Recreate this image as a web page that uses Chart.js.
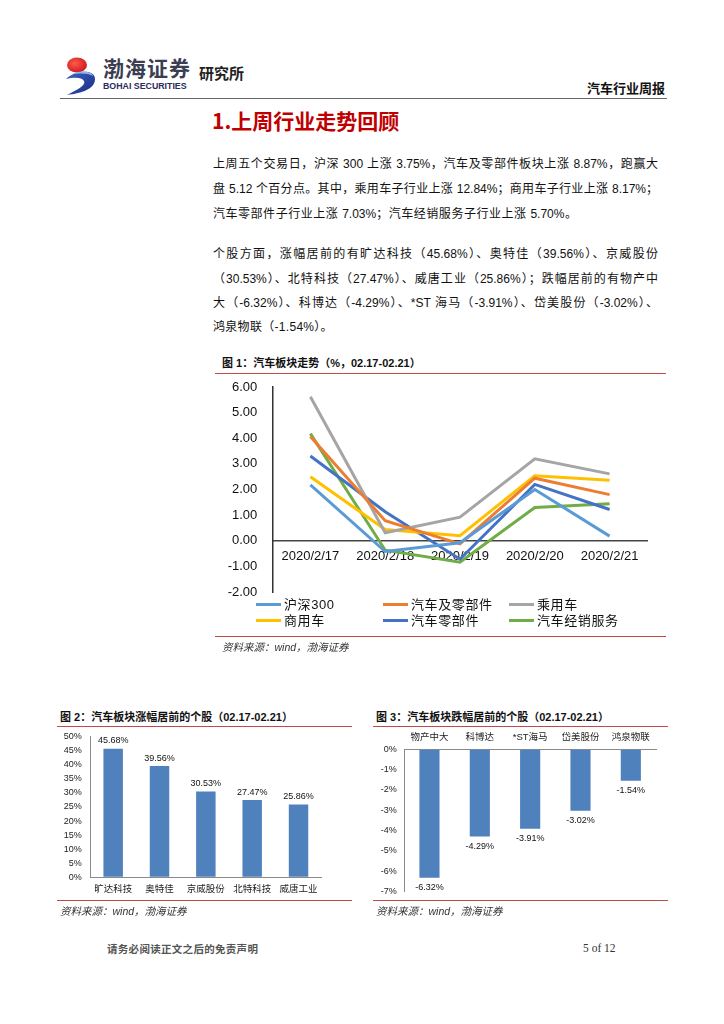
<!DOCTYPE html>
<html>
<head>
<meta charset="utf-8">
<script src="https://cdn.jsdelivr.net/npm/chart.js@4"></script>
<style>
  html,body{margin:0;padding:0;background:#fff;}
  body{width:724px;height:1024px;position:relative;overflow:hidden;
       font-family:"Liberation Sans","Noto Sans CJK SC",sans-serif;color:#111;}
  .abs{position:absolute;}
  .line{position:absolute;left:213px;font-size:12px;line-height:16px;height:16px;
        text-align:justify;text-align-last:justify;color:#111;}
  .rule{position:absolute;height:0;border-top:1.5px solid #BE4B48;}
  .figt{position:absolute;font-size:11px;font-weight:bold;line-height:14px;color:#111;white-space:nowrap;}
  .src{position:absolute;font-size:10.5px;font-style:italic;line-height:13px;color:#333;white-space:nowrap;}
  .leg{position:absolute;font-size:13px;line-height:16px;color:#111;white-space:nowrap;letter-spacing:0.6px;}
  .leg i{position:absolute;left:-28px;top:6px;width:25px;height:3px;}
  canvas{position:absolute;}
</style>
</head>
<body>
<!-- header -->
<svg class="abs" style="left:62px;top:52px" width="40" height="46" viewBox="0 0 40 46">
  <defs>
    <radialGradient id="rg" cx="0.4" cy="0.4" r="0.7">
      <stop offset="0" stop-color="#ff5a4a"/><stop offset="1" stop-color="#c8141c"/>
    </radialGradient>
    <linearGradient id="bg" x1="0" y1="0" x2="1" y2="1">
      <stop offset="0" stop-color="#3f63c8"/><stop offset="1" stop-color="#1b2a80"/>
    </linearGradient>
  </defs>
  <ellipse cx="15" cy="13" rx="10" ry="7.5" fill="url(#rg)"/>
  <path d="M4 27 C 14 18, 33 17, 33 27 C 33 37, 20 41, 5 43 C 17 37, 24 33, 22 29 C 20 25, 12 25, 4 27 Z" fill="url(#bg)"/>
  <path d="M10 22 C 18 18, 30 19, 31 24 C 27 21, 18 21, 10 22 Z" fill="#8fb4ec"/>
</svg>
<div class="abs" style="left:103px;top:54px;font-size:21px;line-height:26px;font-weight:bold;color:#3b3d52;letter-spacing:1px;font-family:'Noto Sans CJK SC';">渤海证券</div>
<div class="abs" style="left:103px;top:81px;font-size:8.8px;line-height:10px;font-weight:bold;color:#2a2c5a;">BOHAI SECURITIES</div>
<div class="abs" style="left:199px;top:63px;font-size:15px;line-height:20px;font-weight:bold;color:#222;font-family:'Noto Sans CJK SC';">研究所</div>
<div class="abs" style="right:59px;top:79px;font-size:13px;line-height:17px;font-weight:bold;color:#111;font-family:'Noto Sans CJK SC';">汽车行业周报</div>
<div class="abs" style="left:60px;top:98px;width:607px;height:0;border-top:1.6px solid #666;"></div>

<!-- section title -->
<div class="abs" style="left:212px;top:106px;font-size:21px;line-height:28px;font-weight:bold;color:#C00000;font-family:'Noto Sans CJK SC';">1.上周行业走势回顾</div>

<!-- paragraph 1 -->
<div class="line" style="top:156px;width:445px;">上周五个交易日，沪深 300 上涨 3.75%，汽车及零部件板块上涨 8.87%，跑赢大</div>
<div class="line" style="top:181px;width:445px;">盘 5.12 个百分点。其中，乘用车子行业上涨 12.84%；商用车子行业上涨 8.17%；</div>
<div class="line" style="top:206px;width:364px;">汽车零部件子行业上涨 7.03%；汽车经销服务子行业上涨 5.70%。</div>
<!-- paragraph 2 -->
<div class="line" style="top:246px;width:445px;">个股方面，涨幅居前的有旷达科技（45.68%）、奥特佳（39.56%）、京威股份</div>
<div class="line" style="top:271px;width:445px;">（30.53%）、北特科技（27.47%）、威唐工业（25.86%）；跌幅居前的有物产中</div>
<div class="line" style="top:295px;width:445px;">大（-6.32%）、科博达（-4.29%）、*ST 海马（-3.91%）、岱美股份（-3.02%）、</div>
<div class="line" style="top:319px;text-align:left;text-align-last:left;white-space:nowrap;letter-spacing:0.3px;">鸿泉物联（-1.54%）。</div>

<!-- figure 1 -->
<div class="figt" style="left:222px;top:356px;">图 1：汽车板块走势（%，02.17-02.21）</div>
<div class="rule" style="left:215px;top:373px;width:451px;"></div>
<canvas id="c1" width="450" height="224" style="left:215px;top:376px;"></canvas>
<div id="legend1"></div>
<div class="rule" style="left:215px;top:636px;width:451px;"></div>
<div class="src" style="left:222px;top:641px;">资料来源：wind，渤海证券</div>

<!-- figure 2 -->
<div class="figt" style="left:60px;top:710px;">图 2：汽车板块涨幅居前的个股（02.17-02.21）</div>
<div class="rule" style="left:57px;top:726px;width:295px;"></div>
<canvas id="c2" width="295" height="172" style="left:57px;top:729px;"></canvas>
<div class="rule" style="left:57px;top:900px;width:295px;"></div>
<div class="src" style="left:60px;top:905px;">资料来源：wind，渤海证券</div>

<!-- figure 3 -->
<div class="figt" style="left:376px;top:710px;">图 3：汽车板块跌幅居前的个股（02.17-02.21）</div>
<div class="rule" style="left:373px;top:726px;width:295px;"></div>
<canvas id="c3" width="295" height="172" style="left:373px;top:728px;"></canvas>
<div class="rule" style="left:373px;top:900px;width:295px;"></div>
<div class="src" style="left:376px;top:905px;">资料来源：wind，渤海证券</div>

<!-- footer -->
<div class="abs" style="left:107px;top:942px;font-size:10.5px;line-height:14px;font-weight:bold;color:#555;font-family:'Noto Sans CJK SC';letter-spacing:0.3px;">请务必阅读正文之后的免责声明</div>
<div class="abs" style="left:583px;top:941px;font-size:11.5px;line-height:14px;color:#333;font-family:'Liberation Serif',serif;">5 of 12</div>

<script>
// ---------- data ----------
const dates = ['2020/2/17','2020/2/18','2020/2/19','2020/2/20','2020/2/21'];
const seriesNames = ['沪深300','汽车及零部件','乘用车','商用车','汽车零部件','汽车经销服务'];
const seriesColors = ['#5B9BD5','#ED7D31','#A5A5A5','#FFC000','#4472C4','#70AD47'];
const hs300      = [2.18, -0.42, -0.08, 2.00, 0.18];
const autoParts  = [4.07,  0.78, -0.12, 2.44, 1.80];
const passenger  = [5.62,  0.31,  0.92, 3.20, 2.61];
const commercial = [2.50,  0.44,  0.20, 2.54, 2.36];
const components = [3.31,  1.13, -0.72, 2.20, 1.22];
const dealers    = [4.18, -0.37, -0.84, 1.30, 1.44];
const seriesValues = [hs300, autoParts, passenger, commercial, components, dealers];

const gainers = ['旷达科技','奥特佳','京威股份','北特科技','威唐工业'];
const gainValues = [45.68, 39.56, 30.53, 27.47, 25.86];
const losers = ['物产中大','科博达','*ST海马','岱美股份','鸿泉物联'];
const lossValues = [-6.32, -4.29, -3.91, -3.02, -1.54];

const FONT = "'Liberation Sans','Noto Sans CJK SC',sans-serif";
Chart.defaults.font.family = FONT;
Chart.defaults.animation = false;

// invisible grid that only provides a tick-length gap between labels and axis
const gapGrid = (len) => ({display:true, drawOnChartArea:false, drawTicks:true, tickLength:len,
                           color:'rgba(0,0,0,0)', tickColor:'rgba(0,0,0,0)'});

// ---------- legend (html, built from arrays) ----------
const legPos = [[284,597],[411,597],[537,597],[284,613],[411,613],[537,613]];
const legEl = document.getElementById('legend1');
seriesNames.forEach((n,i)=>{
  const d = document.createElement('div');
  d.className='leg';
  d.style.left = legPos[i][0]+'px';
  d.style.top = legPos[i][1]+'px';
  d.innerHTML = '<i style="background:'+seriesColors[i]+'"></i>'+n;
  legEl.appendChild(d);
});

// ---------- chart 1 ----------
new Chart(document.getElementById('c1'), {
  type:'line',
  data:{
    labels: dates,
    datasets: seriesNames.map((n,i)=>({
      label:n, data:seriesValues[i], borderColor:seriesColors[i], backgroundColor:seriesColors[i],
      borderWidth:3, pointRadius:0, tension:0, fill:false
    }))
  },
  options:{
    responsive:false, devicePixelRatio:1,
    layout:{padding:{top:11,bottom:8,right:18,left:0}},
    plugins:{legend:{display:false}, tooltip:{enabled:false}},
    scales:{
      x:{position:{y:0}, offset:true,
         grid:gapGrid(7.5),
         border:{display:true,color:'#444',width:1.5},
         ticks:{padding:0, font:{size:13}, color:'#111', maxRotation:0, autoSkip:false}},
      y:{min:-2, max:6,
         grid:gapGrid(15.7),
         border:{display:true,color:'#333',width:1.5},
         ticks:{stepSize:1, padding:0, font:{size:13}, color:'#111', callback:v=>Number(v).toFixed(2)},
         afterFit:s=>{s.width=58;}}
    }
  }
});

// ---------- bar label plugin ----------
const barLabels = {
  id:'barLabels',
  afterDatasetsDraw(chart, args, opts){
    const ctx = chart.ctx;
    const meta = chart.getDatasetMeta(0);
    const vals = chart.data.datasets[0].data;
    ctx.save();
    ctx.font = '9px '+FONT;
    ctx.fillStyle = '#111';
    ctx.textAlign = 'center';
    ctx.textBaseline = 'middle';
    meta.data.forEach((el,i)=>{
      const v = vals[i];
      const y = v >= 0 ? el.y - opts.offset : el.y + opts.offset;
      ctx.fillText(v.toFixed(2)+'%', el.x, y);
    });
    ctx.restore();
  }
};

// ---------- chart 2 ----------
new Chart(document.getElementById('c2'), {
  type:'bar',
  data:{labels:gainers, datasets:[{data:gainValues, backgroundColor:'#4F81BD', categoryPercentage:1, barPercentage:0.42}]},
  options:{
    responsive:false, devicePixelRatio:1,
    layout:{padding:{top:7.7,bottom:23.7,right:30.3,left:0}},
    plugins:{legend:{display:false}, tooltip:{enabled:false}, barLabels:{offset:8}},
    scales:{
      x:{position:{y:0}, offset:true,
         grid:gapGrid(6.3),
         border:{display:true,color:'#8a8a8a',width:1},
         ticks:{padding:0, font:{size:9.5}, color:'#222', maxRotation:0, autoSkip:false}},
      y:{min:0, max:50,
         grid:gapGrid(8.3),
         border:{display:true,color:'#8a8a8a',width:1},
         ticks:{stepSize:5, padding:0, font:{size:9}, color:'#222', callback:v=>v+'%'},
         afterFit:s=>{s.width=33;}}
    }
  },
  plugins:[barLabels]
});

// ---------- chart 3 ----------
new Chart(document.getElementById('c3'), {
  type:'bar',
  data:{labels:losers, datasets:[{data:lossValues, backgroundColor:'#4F81BD', categoryPercentage:1, barPercentage:0.4}]},
  options:{
    responsive:false, devicePixelRatio:1,
    layout:{padding:{top:0,bottom:8.3,right:12,left:0}},
    plugins:{legend:{display:false}, tooltip:{enabled:false}, barLabels:{offset:9.7}},
    scales:{
      x:{position:'top', offset:true,
         grid:gapGrid(6.2),
         border:{display:true,color:'#8a8a8a',width:1},
         ticks:{padding:0, font:{size:9.5}, color:'#222', maxRotation:0, autoSkip:false},
         afterFit:s=>{s.height=21.3;}},
      y:{min:-7, max:0,
         grid:gapGrid(7.6),
         border:{display:true,color:'#8a8a8a',width:1},
         ticks:{stepSize:1, padding:0, font:{size:9}, color:'#222', callback:v=>v+'%'},
         afterFit:s=>{s.width=31.3;}}
    }
  },
  plugins:[barLabels]
});
</script>
</body>
</html>
